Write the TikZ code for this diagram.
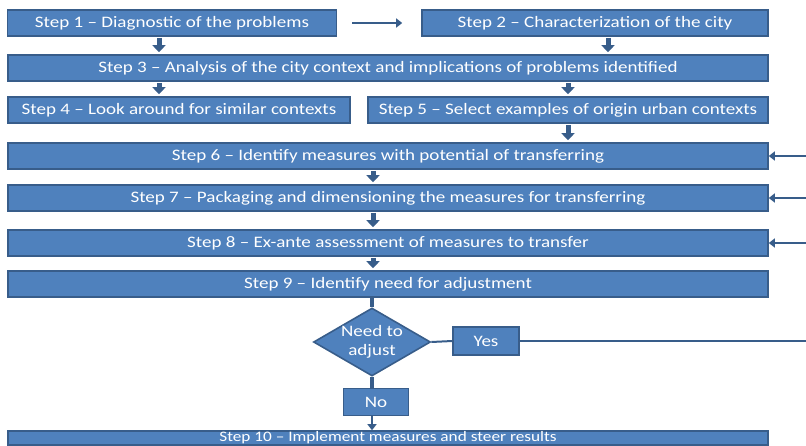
\documentclass[tikz,border=0pt]{standalone}
\usepackage{fontspec}
\newfontfamily\stepfont[FakeStretch=1.19]{Carlito}
\usetikzlibrary{arrows.meta,shapes.geometric}
\definecolor{boxfill}{HTML}{4F81BD}
\definecolor{boxline}{HTML}{385D8A}
\tikzset{
  stepbox/.style={draw=boxline, fill=boxfill, line width=1.6pt, text=white,
    minimum height=26pt, inner sep=0pt, font={\stepfont\fontsize{16}{19}\selectfont}},
  bigarr/.style={boxline, line width=5pt, -{Triangle[width=13pt,length=7pt]},
    shorten <=1pt, shorten >=2pt},
  sidearr/.style={boxline, line width=2.8pt, -{Triangle[width=9pt,length=6pt]}},
  stem/.style={boxline, line width=4pt},
  thinline/.style={boxline, line width=2pt}
}
\begin{document}
\begin{tikzpicture}[x=1pt,y=-1pt]
\useasboundingbox (0,0) rectangle (806,445);
\coordinate (edge) at (830,0);

\node[stepbox, minimum width=329pt] (s1) at (172,23) {Step 1 – Diagnostic of the problems};
\node[stepbox, minimum width=346pt] (s2) at (595,23) {Step 2 – Characterization of the city};
\node[stepbox, minimum width=760pt] (s3) at (388,68) {Step 3 – Analysis of the city context and implications of problems identified};
\node[stepbox, minimum width=342pt] (s4) at (179,110) {Step 4 – Look around for similar contexts};
\node[stepbox, minimum width=400pt] (s5) at (568,110) {Step 5 – Select examples of origin urban contexts};
\node[stepbox, minimum width=760pt] (s6) at (388,156) {Step 6 – Identify measures with potential of transferring};
\node[stepbox, minimum width=760pt] (s7) at (388,198) {Step 7 – Packaging and dimensioning the measures for transferring};
\node[stepbox, minimum width=760pt] (s8) at (388,243) {Step 8 – Ex-ante assessment of measures to transfer};
\node[stepbox, minimum width=760pt] (s9) at (388,284) {Step 9 – Identify need for adjustment};
\node[stepbox, shape=diamond, aspect=1.7, inner sep=-3pt, minimum width=117pt, minimum height=68pt, align=center] (dia) at (372,342) {Need to\\adjust};
\node[stepbox, minimum width=66pt, minimum height=28pt] (yes) at (486,341) {Yes};
\node[stepbox, minimum width=65pt, minimum height=27pt] (no) at (376,402) {No};
\node[stepbox, minimum width=760pt, minimum height=14pt, font={\stepfont\fontsize{14.5}{17}\selectfont}] (s10) at (388,438) {Step 10 – Implement measures and steer results};

\draw[sidearr] ([xshift=15pt]s1.east) -- ([xshift=-19pt]s2.west);
\draw[bigarr] ([xshift=-13pt]s1.south) -- ([xshift=-13pt]s1.south |- s3.north);
\draw[bigarr] ([xshift=13pt]s2.south) -- ([xshift=13pt]s2.south |- s3.north);
\draw[bigarr] ([xshift=-20pt]s4.north |- s3.south) -- ([xshift=-20pt]s4.north);
\draw[bigarr] (s5.north |- s3.south) -- (s5.north);
\draw[bigarr] (s5.south) -- (s5.south |- s6.north);
\draw[bigarr] ([xshift=-15pt]s6.south) -- ([xshift=-15pt]s7.north);
\draw[bigarr] ([xshift=-15pt]s7.south) -- ([xshift=-15pt]s8.north);
\draw[bigarr] ([xshift=-15pt]s8.south) -- ([xshift=-15pt]s9.north);
\draw[sidearr] (s6.east -| edge) -- (s6.east);
\draw[sidearr] (s7.east -| edge) -- (s7.east);
\draw[sidearr] (s8.east -| edge) -- (s8.east);
\draw[stem] (dia.north |- s9.south) -- (dia.north);
\draw[stem] (dia.south) -- (dia.south |- no.north);
\draw[sidearr] (dia.south |- no.south) -- (dia.south |- s10.north);
\draw[thinline] (dia.east) -- (yes.west);
\draw[thinline] (yes.east) -- (yes.east -| edge);
\end{tikzpicture}
\end{document}
